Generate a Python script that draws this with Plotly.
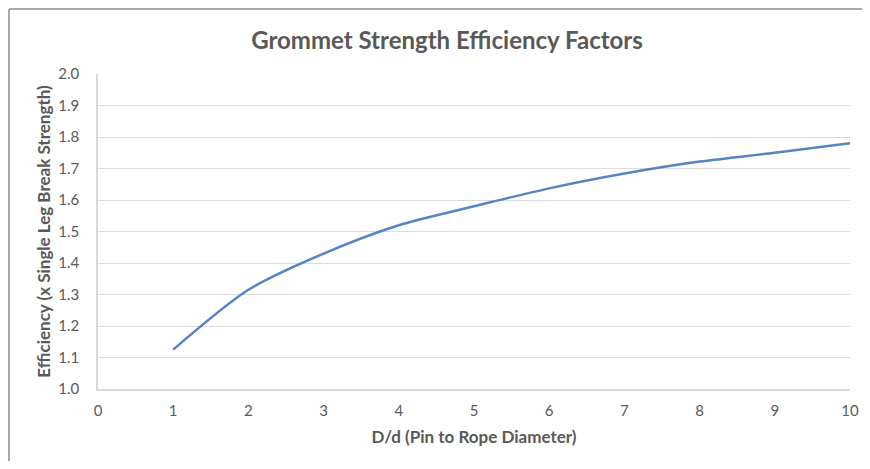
import plotly.graph_objects as go

ratio_dd = [1, 2, 3, 4, 5, 6, 7, 8, 9, 10]
efficiency = [1.125, 1.315, 1.43, 1.52, 1.58, 1.637, 1.684, 1.722, 1.75, 1.78]
x_ticks = [0, 1, 2, 3, 4, 5, 6, 7, 8, 9, 10]
y_ticks = [1.0, 1.1, 1.2, 1.3, 1.4, 1.5, 1.6, 1.7, 1.8, 1.9, 2.0]

FONT = "Lato, 'Open Sans', 'Liberation Sans', sans-serif"
TXT = "#595959"

# page has an 8px body margin; figure sized/margined so the plot area sits at
# page x 98..850, y 74..389
PW, PH = 752, 315

fig = go.Figure()
fig.add_trace(go.Scatter(
    x=ratio_dd, y=efficiency, mode="lines",
    line=dict(color="#5684C4", width=2.5, shape="spline", smoothing=0.8),
    showlegend=False, hoverinfo="x+y"))

fig.update_layout(
    width=862, height=461,
    paper_bgcolor="white", plot_bgcolor="white",
    margin=dict(l=90, r=20, t=66, b=80),
    font=dict(family=FONT, color=TXT, size=15),
    title=dict(text="<b>Grommet Strength Efficiency Factors</b>", x=(447 - 98) / PW,
               xref="paper", xanchor="center",
               y=1 - 33 / 461, yanchor="middle", font=dict(size=24, color=TXT, family=FONT)),
    xaxis=dict(range=[0, 10], tickvals=x_ticks, ticktext=[str(v) for v in x_ticks],
               showgrid=False, zeroline=False, showline=True, linecolor="#d9d9d9", linewidth=1.5,
               ticks="", ticklabelstandoff=7, tickfont=dict(size=15, color=TXT),
               title=dict(text="<b>D/d (Pin to Rope Diameter)</b>", standoff=13,
                          font=dict(size=17, color=TXT))),
    yaxis=dict(range=[1.0, 2.0], tickvals=y_ticks, ticktext=[f"{v:.1f}" for v in y_ticks],
               showgrid=True, gridcolor="#dcdcdc", gridwidth=1, zeroline=False,
               showline=True, linecolor="#d9d9d9", linewidth=1.5,
               ticks="", ticklabelstandoff=14, tickfont=dict(size=15, color=TXT),
               title=dict(text="<b>Efficiency (x Single Leg Break Strength)</b>", standoff=3,
                          font=dict(size=17, color=TXT))),
    shapes=[
        dict(type="line", xref="paper", yref="paper",
             x0=-89 / PW, x1=1 + 20 / PW, y0=1 + 65 / PH, y1=1 + 65 / PH,
             line=dict(color="#8c8c8c", width=1.5)),
        dict(type="line", xref="paper", yref="paper",
             x0=-89 / PW, x1=-89 / PW, y0=1 + 65 / PH, y1=-72 / PH,
             line=dict(color="#8c8c8c", width=1.5)),
    ],
)

fig.write_html("out.html")
